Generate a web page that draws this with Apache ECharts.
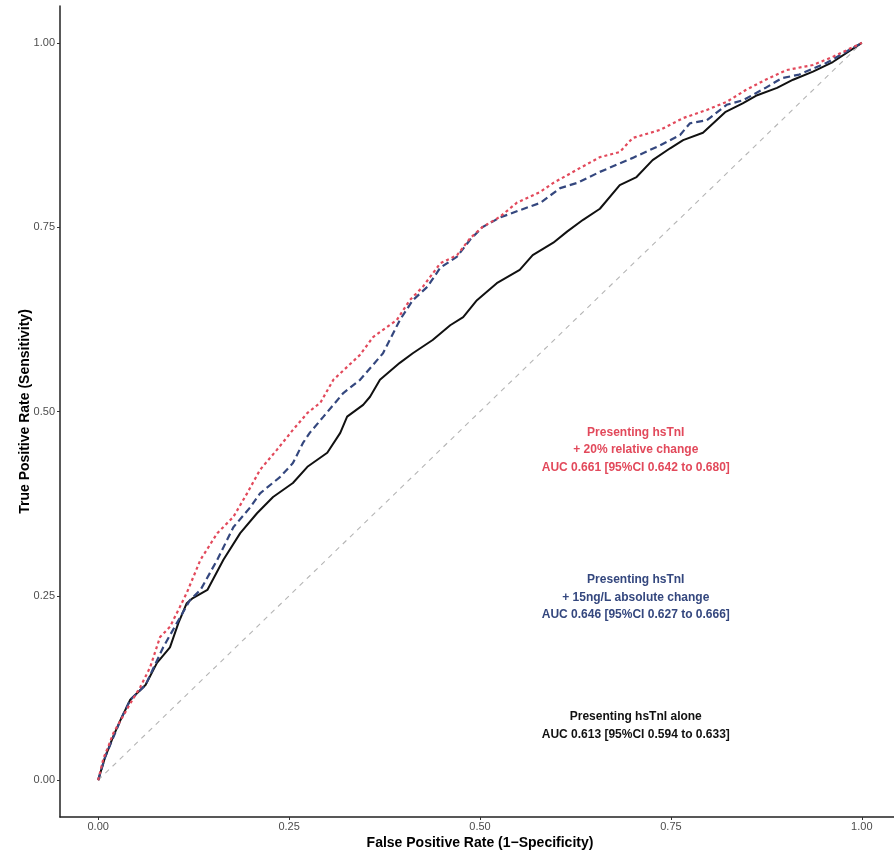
<!DOCTYPE html>
<html>
<head>
    <meta charset="utf-8">
    <title>ROC curves</title>
    <script src="https://cdn.jsdelivr.net/npm/echarts@6/dist/echarts.min.js"></script>
</head>
<body style="margin:0;background:#fff;">
    <div id="main" style="width:894px;height:855px;"></div>
    <script type="text/javascript">
// ROC points: [1-specificity, sensitivity]
var rocAlone = [[0,0],[0.009,0.031],[0.020,0.060],[0.029,0.081],[0.042,0.109],[0.062,0.129],[0.077,0.159],[0.094,0.180],[0.105,0.213],[0.116,0.240],[0.124,0.247],[0.143,0.258],[0.164,0.299],[0.186,0.335],[0.208,0.362],[0.229,0.384],[0.255,0.403],[0.274,0.425],[0.300,0.444],[0.317,0.471],[0.326,0.493],[0.347,0.509],[0.356,0.520],[0.369,0.543],[0.395,0.566],[0.412,0.579],[0.438,0.597],[0.461,0.617],[0.478,0.628],[0.496,0.651],[0.522,0.674],[0.552,0.692],[0.569,0.712],[0.596,0.729],[0.614,0.744],[0.635,0.760],[0.657,0.775],[0.683,0.807],[0.705,0.818],[0.726,0.841],[0.749,0.857],[0.766,0.868],[0.792,0.878],[0.821,0.906],[0.844,0.918],[0.863,0.929],[0.889,0.939],[0.910,0.950],[0.936,0.961],[0.962,0.974],[1,1]];
var rocAbs = [[0,0],[0.009,0.031],[0.029,0.081],[0.042,0.109],[0.062,0.129],[0.071,0.149],[0.085,0.180],[0.103,0.213],[0.120,0.244],[0.134,0.258],[0.156,0.299],[0.177,0.343],[0.199,0.370],[0.212,0.389],[0.238,0.411],[0.255,0.430],[0.268,0.457],[0.277,0.471],[0.295,0.493],[0.321,0.525],[0.343,0.543],[0.373,0.579],[0.395,0.624],[0.412,0.651],[0.431,0.669],[0.448,0.695],[0.470,0.710],[0.487,0.733],[0.503,0.750],[0.526,0.763],[0.552,0.773],[0.579,0.783],[0.605,0.803],[0.627,0.810],[0.657,0.825],[0.700,0.844],[0.736,0.861],[0.762,0.875],[0.775,0.891],[0.797,0.895],[0.823,0.916],[0.844,0.922],[0.874,0.939],[0.895,0.952],[0.918,0.957],[0.954,0.973],[1,1]];
var rocRel = [[0,0],[0.007,0.030],[0.013,0.045],[0.020,0.064],[0.042,0.104],[0.055,0.126],[0.068,0.153],[0.081,0.194],[0.094,0.208],[0.107,0.235],[0.116,0.254],[0.134,0.299],[0.156,0.335],[0.177,0.357],[0.195,0.389],[0.212,0.421],[0.234,0.448],[0.255,0.475],[0.274,0.498],[0.291,0.512],[0.308,0.543],[0.343,0.577],[0.360,0.601],[0.391,0.624],[0.408,0.651],[0.425,0.669],[0.448,0.701],[0.470,0.712],[0.487,0.735],[0.503,0.750],[0.526,0.764],[0.548,0.783],[0.579,0.798],[0.596,0.810],[0.627,0.828],[0.657,0.845],[0.683,0.852],[0.700,0.871],[0.736,0.882],[0.766,0.898],[0.797,0.909],[0.823,0.920],[0.848,0.936],[0.874,0.950],[0.901,0.963],[0.936,0.970],[0.962,0.981],[1,1]];
var chance = [[0,0],[1,1]];

var ticks = [0, 0.25, 0.5, 0.75, 1];

// annotation text and where it sits (data coords)
var noteRel = ['Presenting hsTnI', '+ 20% relative change', 'AUC 0.661 [95%CI 0.642 to 0.680]'];
var noteAbs = ['Presenting hsTnI', '+ 15ng/L absolute change', 'AUC 0.646 [95%CI 0.627 to 0.666]'];
var noteAlone = ['Presenting hsTnI alone', 'AUC 0.613 [95%CI 0.594 to 0.633]'];
var notePos = [[0.704, 0.448], [0.704, 0.248], [0.704, 0.074]];

var red = '#E2495B', blue = '#34477E', black = '#111111';

function note(lines, pos, color) {
    return {
        type: 'scatter', data: [pos], symbol: 'circle', symbolSize: 1, silent: true, z: 5,
        itemStyle: { color: 'rgba(0,0,0,0)', opacity: 1 },
        label: {
            show: true, position: 'inside', formatter: lines.join('\n'),
            color: color, fontSize: 12, fontWeight: 'bold', lineHeight: 17.5,
            textBorderWidth: 0, opacity: 1,
            fontFamily: 'Liberation Sans, Arial, sans-serif', align: 'center'
        }
    };
}

var myChart = echarts.init(document.getElementById('main'));
var option = {
    animation: false,
    backgroundColor: '#fff',
    grid: { left: 60, top: 6, width: 840, height: 811, outerBoundsMode: 'none' },
    xAxis: {
        type: 'value', min: -0.05, max: 1.05,
        name: 'False Positive Rate (1\u2212Specificity)', nameLocation: 'middle', nameGap: 19, nameMoveOverlap: false,
        nameTextStyle: { color: '#000', fontSize: 14, fontWeight: 'bold', fontFamily: 'Liberation Sans, Arial, sans-serif' },
        axisLine: { onZero: false, lineStyle: { color: '#222', width: 1.5 } },
        axisTick: { show: true, length: 3, customValues: ticks, lineStyle: { color: '#333' } },
        axisLabel: { customValues: ticks, formatter: function (v) { return v.toFixed(2); }, color: '#4d4d4d', fontSize: 11, margin: 4, fontFamily: 'Liberation Sans Narrow, Liberation Sans, Arial, sans-serif' },
        splitLine: { show: false }
    },
    yAxis: {
        type: 'value', min: -0.05, max: 1.05,
        name: 'True Positive Rate (Sensitivity)', nameLocation: 'middle', nameGap: 28, nameMoveOverlap: false,
        nameTextStyle: { color: '#000', fontSize: 14, fontWeight: 'bold', fontFamily: 'Liberation Sans, Arial, sans-serif' },
        axisLine: { onZero: false, lineStyle: { color: '#222', width: 1.5 } },
        axisTick: { show: true, length: 3, customValues: ticks, lineStyle: { color: '#333' } },
        axisLabel: { customValues: ticks, formatter: function (v) { return v.toFixed(2); }, color: '#4d4d4d', fontSize: 11, margin: 5, fontFamily: 'Liberation Sans, Arial, sans-serif' },
        splitLine: { show: false }
    },
    series: [
        { type: 'line', data: chance, symbol: 'none', silent: true,
          lineStyle: { color: '#b5b5b5', width: 1.1, type: [5, 5] } },
        { type: 'line', name: 'alone', data: rocAlone, symbol: 'none', z: 3,
          lineStyle: { color: black, width: 2 } },
        { type: 'line', name: 'absolute', data: rocAbs, symbol: 'none', z: 4,
          lineStyle: { color: blue, width: 2.2, type: [7, 4] } },
        { type: 'line', name: 'relative', data: rocRel, symbol: 'none', z: 4,
          lineStyle: { color: red, width: 2.2, type: [3, 3] } },
        note(noteRel, notePos[0], red),
        note(noteAbs, notePos[1], blue),
        note(noteAlone, notePos[2], black)
    ]
};
myChart.setOption(option);
    </script>
</body>
</html>
